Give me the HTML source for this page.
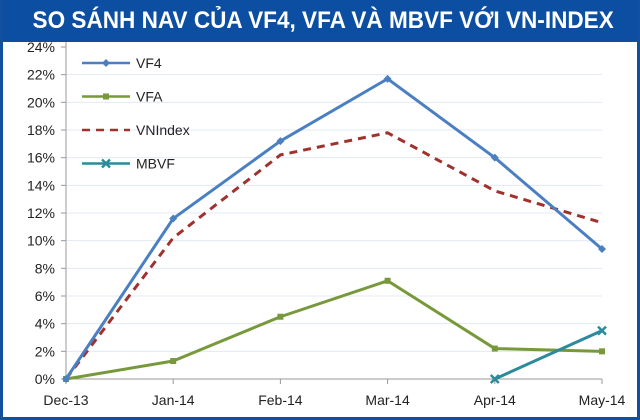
<!DOCTYPE html>
<html><head><meta charset="utf-8"><style>
html,body{margin:0;padding:0;background:#fff;}
#wrap{position:relative;width:640px;height:420px;overflow:hidden;background:#fff;box-sizing:border-box;border:3px solid #1150a0;border-top:none;}
#title{position:absolute;left:0;top:0;width:640px;height:42px;background:#0b4ea2;color:#fff;font:bold 24px "Liberation Sans",sans-serif;text-align:center;line-height:42px;z-index:2;}
#title span{display:inline-block;transform:scaleX(0.94);}
svg text{font-family:"Liberation Sans",sans-serif;font-size:14px;fill:#222;}
</style></head><body>
<div id="wrap">
<div id="title"><span>SO SÁNH NAV CỦA VF4, VFA VÀ MBVF VỚI VN-INDEX</span></div>
<svg id="chart" width="640" height="420" style="position:absolute;left:-3px;top:0"></svg>
</div>
<script>
const categories=["Dec-13","Jan-14","Feb-14","Mar-14","Apr-14","May-14"];
const vf4=[0,11.6,17.2,21.7,16.0,9.4];
const vfa=[0,1.3,4.5,7.1,2.2,2.0];
const vnindex=[0,10.2,16.2,17.8,13.6,11.3];
const mbvf=[null,null,null,null,0,3.5];
const yTicks=[0,2,4,6,8,10,12,14,16,18,20,22,24];
const legendLabels=["VF4","VFA","VNIndex","MBVF"];

const NS="http://www.w3.org/2000/svg";
const svg=document.getElementById('chart');
const x0=66,x1=602,y0=379,y24=47;
const xs=i=>x0+i*(x1-x0)/(categories.length-1);
const ys=v=>y0-v*(y0-y24)/24;
function mk(t,a){const e=document.createElementNS(NS,t);for(const k in a)e.setAttribute(k,a[k]);svg.appendChild(e);return e;}
yTicks.forEach(t=>{
  if(t>0&&t<24){const g=mk('line',{x1:x0,x2:x1,y1:ys(t),y2:ys(t),stroke:'#e3e9f2','stroke-width':1});
  
  }
  const tk=mk('line',{x1:x0-5,x2:x0,y1:ys(t),y2:ys(t),stroke:'#999'});
  
  
  const l=mk('text',{x:x0-11,y:ys(t)+5,'text-anchor':'end'});l.textContent=t+'%';
  
  
});
const ax=mk('line',{x1:x0,x2:x0,y1:y24-8,y2:y0,stroke:'#999'});


const bx=mk('line',{x1:x0,x2:x1,y1:y0,y2:y0,stroke:'#999'});


categories.forEach((c,i)=>{
  const tk=mk('line',{x1:xs(i),x2:xs(i),y1:y0,y2:y0+5,stroke:'#999'});
  
  
  const l=mk('text',{x:xs(i),y:405,'text-anchor':'middle'});l.textContent=c;
  
  
});
function series(vals,color,dash,marker,name){
  const pts=[];vals.forEach((v,i)=>{if(v!==null)pts.push([xs(i),ys(v)]);});
  const p=mk('polyline',{points:pts.map(p=>p.join(',')).join(' '),fill:'none',stroke:color,'stroke-width':3,'stroke-dasharray':dash||'none','stroke-linejoin':'round'});
  
  
  pts.forEach(q=>drawMarker(q[0],q[1],color,marker,name));
}
function drawMarker(x,y,color,marker,name){
  let m;
  if(marker==='diamond')m=mk('polygon',{points:`${x},${y-4} ${x+4},${y} ${x},${y+4} ${x-4},${y}`,fill:color});
  else if(marker==='square')m=mk('rect',{x:x-3,y:y-3,width:6,height:6,fill:color});
  else if(marker==='x')m=mk('path',{d:`M${x-4},${y-4}L${x+4},${y+4}M${x-4},${y+4}L${x+4},${y-4}`,stroke:color,'stroke-width':2.5});
  if(m){
  }
}
series(vnindex,'#a0322e','8,6',null,'vnindex');
series(vfa,'#77993a',null,'square','vfa');
series(vf4,'#4a7fc1',null,'diamond','vf4');
series(mbvf,'#2b8a9c',null,'x','mbvf');
const legColors=['#4a7fc1','#77993a','#a0322e','#2b8a9c'];
const legMarkers=['diamond','square',null,'x'];
legendLabels.forEach((lab,i)=>{
  const y=63+i*33.5;
  const ln=mk('line',{x1:82,x2:130,y1:y,y2:y,stroke:legColors[i],'stroke-width':2.5,'stroke-dasharray':i===2?'8,6':'none'});
  
  
  drawMarker(106,y,legColors[i],legMarkers[i],'legend');
  const t=mk('text',{x:136,y:y+5});t.textContent=lab;
  
  
});
</script>
</body></html>
